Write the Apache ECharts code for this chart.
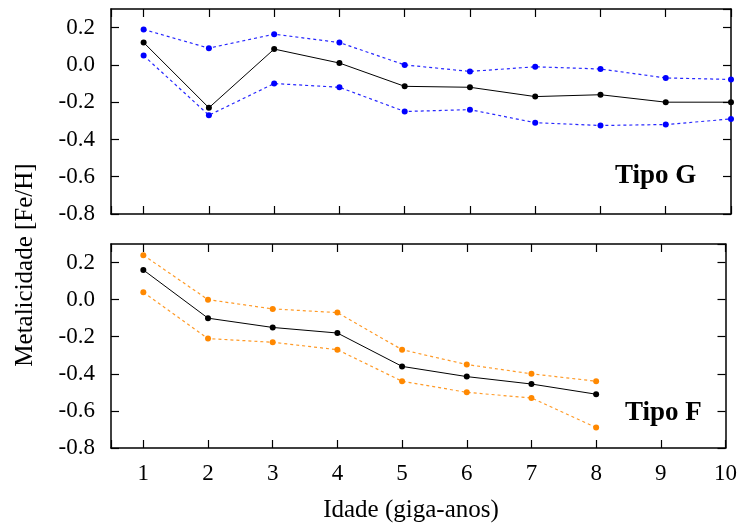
<!DOCTYPE html>
<html>
<head>
<meta charset="utf-8">
<script src="https://cdn.jsdelivr.net/npm/echarts@6/dist/echarts.min.js"></script>
<style>
  html, body { margin: 0; padding: 0; background: #fff; }
  #main { width: 740px; height: 527px; }
</style>
</head>
<body>
<div id="main"></div>
<script>
// idade em giga-anos
const agesG = [1, 2, 3, 4, 5, 6, 7, 8, 9, 10];
const agesF = [1, 2, 3, 4, 5, 6, 7, 8];

// Tipo G
const meanG = [0.12, -0.23, 0.085, 0.01, -0.115, -0.12, -0.17, -0.16, -0.20, -0.20];
const upperG = [0.19, 0.09, 0.165, 0.12, 0.0, -0.035, -0.01, -0.022, -0.07, -0.078];
const lowerG = [0.05, -0.27, -0.10, -0.12, -0.25, -0.24, -0.31, -0.325, -0.32, -0.29];

// Tipo F
const meanF = [0.16, -0.10, -0.15, -0.18, -0.36, -0.415, -0.455, -0.51];
const upperF = [0.24, 0.0, -0.05, -0.07, -0.27, -0.35, -0.40, -0.44];
const lowerF = [0.04, -0.21, -0.23, -0.27, -0.44, -0.50, -0.53, -0.69];

const yTicks = [0.2, 0.0, -0.2, -0.4, -0.6, -0.8];

const font = "Liberation Serif";
const chart = echarts.init(document.getElementById("main"));

const pairs = (xs, ys) => xs.map((x, i) => [x, ys[i]]);

// min 0.5 is not a multiple of 1, so let echarts nice the ticks and pin the step
function xAxisFor(gridIndex, position, showLabel) {
  return {
    type: "value",
    gridIndex: gridIndex,
    position: position,
    min: 0.5,
    max: 10,
    splitNumber: 10,
    minInterval: 1,
    maxInterval: 1,
    splitLine: { show: false },
    axisLine: { show: true, onZero: false, lineStyle: { color: "#000", width: 1.5 } },
    axisTick: { show: true, inside: true, length: 8, lineStyle: { color: "#000", width: 1.2 } },
    axisLabel: {
      show: showLabel,
      color: "#000",
      fontFamily: font,
      fontSize: 23,
      margin: 14,
      formatter: (v) => (Number.isInteger(v) ? String(v) : ""),
    },
  };
}

function yAxisFor(gridIndex, position, showLabel) {
  return {
    type: "value",
    gridIndex: gridIndex,
    position: position,
    min: -0.8,
    max: 0.3,
    interval: 0.2,
    splitLine: { show: false },
    axisLine: { show: true, onZero: false, lineStyle: { color: "#000", width: 1.5 } },
    axisTick: { show: true, inside: true, length: 8, lineStyle: { color: "#000", width: 1.2 } },
    axisLabel: {
      show: showLabel,
      showMaxLabel: false,
      color: "#000",
      fontFamily: font,
      fontSize: 23,
      margin: 16,
      formatter: (v) => {
        const t = yTicks.find((k) => Math.abs(k - v) < 1e-6);
        return t === undefined ? "" : t.toFixed(1);
      },
    },
  };
}

function band(name, xi, yi, xs, ys, color) {
  return {
    name: name,
    type: "line",
    xAxisIndex: xi,
    yAxisIndex: yi,
    data: pairs(xs, ys),
    symbol: "circle",
    symbolSize: 6,
    itemStyle: { color: color },
    lineStyle: { color: color, width: 1.2, type: [3, 3], opacity: 0.85 },
    animation: false,
    z: 2,
  };
}

function mean(name, xi, yi, xs, ys) {
  return {
    name: name,
    type: "line",
    xAxisIndex: xi,
    yAxisIndex: yi,
    data: pairs(xs, ys),
    symbol: "circle",
    symbolSize: 6,
    itemStyle: { color: "#000" },
    lineStyle: { color: "#000", width: 1 },
    animation: false,
    z: 3,
  };
}

const blue = "#0000ff";
const orange = "#ff8800";

const option = {
  backgroundColor: "#fff",
  animation: false,
  grid: [
    { left: 111, right: 9, top: 9, height: 205 },
    { left: 111, right: 9, top: 244, height: 204 },
  ],
  xAxis: [
    xAxisFor(0, "bottom", false),
    xAxisFor(0, "top", false),
    xAxisFor(1, "bottom", true),
    xAxisFor(1, "top", false),
  ],
  yAxis: [
    yAxisFor(0, "left", true),
    yAxisFor(0, "right", false),
    yAxisFor(1, "left", true),
    yAxisFor(1, "right", false),
  ],
  series: [
    band("G superior", 0, 0, agesG, upperG, blue),
    band("G inferior", 0, 0, agesG, lowerG, blue),
    mean("G média", 0, 0, agesG, meanG),
    band("F superior", 2, 2, agesF, upperF, orange),
    band("F inferior", 2, 2, agesF, lowerF, orange),
    mean("F média", 2, 2, agesF, meanF),
  ],
  graphic: [
    {
      type: "text",
      x: 615,
      y: 176,
      style: {
        text: "Tipo G",
        font: "bold 27px '" + font + "'",
        fill: "#000",
        align: "left",
        verticalAlign: "middle",
      },
    },
    {
      type: "text",
      x: 625,
      y: 413,
      style: {
        text: "Tipo F",
        font: "bold 27px '" + font + "'",
        fill: "#000",
        align: "left",
        verticalAlign: "middle",
      },
    },
    {
      type: "text",
      x: 25,
      y: 265,
      rotation: Math.PI / 2,
      style: {
        text: "Metalicidade [Fe/H]",
        font: "25px '" + font + "'",
        fill: "#000",
        align: "center",
        verticalAlign: "middle",
      },
    },
    {
      type: "text",
      x: 411,
      y: 510,
      style: {
        text: "Idade (giga-anos)",
        font: "25px '" + font + "'",
        fill: "#000",
        align: "center",
        verticalAlign: "middle",
      },
    },
  ],
};

chart.setOption(option);
</script>
</body>
</html>
